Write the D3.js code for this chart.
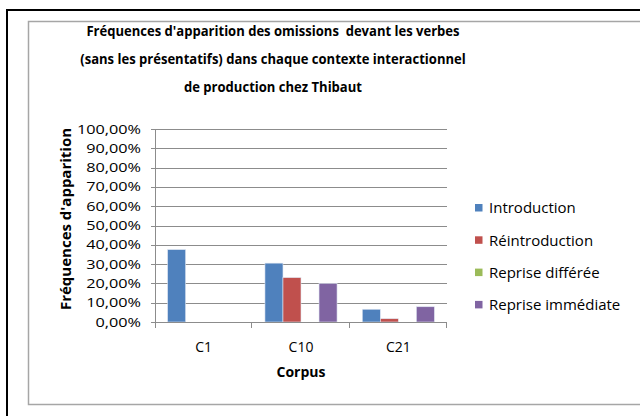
<!DOCTYPE html>
<html>
<head>
<meta charset="utf-8"/>
<script src="https://cdn.jsdelivr.net/npm/d3@7"></script>
<style>
  body { margin: 0; background: #fff; }
  svg text { font-family: "Open Sans", "Noto Sans", sans-serif; fill: #000; white-space: pre; }
</style>
</head>
<body>
<script>
// chart data
var categories = ["C1", "C10", "C21"];
var seriesNames = ["Introduction", "Réintroduction", "Reprise différée", "Reprise immédiate"];
var introduction = [0.375, 0.305, 0.066];
var reintroduction = [0, 0.23, 0.017];
var repriseDifferee = [0, 0, 0];
var repriseImmediate = [0, 0.20, 0.079];
var yTicks = [0, 0.1, 0.2, 0.3, 0.4, 0.5, 0.6, 0.7, 0.8, 0.9, 1];
var titleLines = ["Fréquences d'apparition des omissions  devant les verbes",
                  "(sans les présentatifs) dans chaque contexte interactionnel",
                  "de production chez Thibaut"];
var colors = ["#4F81BD", "#C0504D", "#9BBB59", "#8064A2"];

var seriesValues = [introduction, reintroduction, repriseDifferee, repriseImmediate];

var width = 640, height = 416;
var svg = d3.select("body").append("svg").attr("width", width).attr("height", height);

// frames
svg.append("rect").attr("x", 7).attr("y", 10).attr("width", 700).attr("height", 500)
   .attr("fill", "none").attr("stroke", "#000").attr("stroke-width", 2);
svg.append("rect").attr("x", 28.5).attr("y", 21.5).attr("width", 700).attr("height", 383)
   .attr("fill", "#fff").attr("stroke", "#a6a6a6").attr("stroke-width", 1.5);

var plotLeft = 155, plotRight = 447, plotTop = 129, plotBottom = 322;

var x0 = d3.scaleBand().domain(categories).range([plotLeft, plotRight]);
var x1 = d3.scaleBand().domain(seriesNames).range([0, x0.bandwidth()]).paddingOuter(0.7);
var y = d3.scaleLinear().domain([0, 1]).range([plotBottom, plotTop]);

var fmt = function (d) { return d3.format(".2%")(d).replace(".", ","); };

// gridlines
svg.append("g").selectAll("line").data(yTicks).enter().append("line")
   .attr("x1", plotLeft - 4).attr("x2", plotRight)
   .attr("y1", function (d) { return Math.round(y(d)) + 0.5; })
   .attr("y2", function (d) { return Math.round(y(d)) + 0.5; })
   .attr("stroke", "#8c8c8c").attr("stroke-width", 1);

// y axis labels (stretched horizontally like the original)
svg.append("g").selectAll("text").data(yTicks).enter().append("text")
   .attr("transform", function (d) { return "translate(141," + y(d) + ") scale(1.25,1)"; })
   .attr("dy", "0.35em").attr("text-anchor", "end")
   .style("font-size", "13px")
   .text(fmt);

// bars
var groups = svg.append("g").selectAll("g").data(categories).enter().append("g")
   .attr("transform", function (d) { return "translate(" + x0(d) + ",0)"; });
groups.selectAll("rect")
   .data(function (d, i) {
     return seriesNames.map(function (s, j) { return { s: s, v: seriesValues[j][i], c: colors[j] }; });
   })
   .enter().append("rect")
   .attr("x", function (d) { return x1(d.s); })
   .attr("width", x1.bandwidth())
   .attr("y", function (d) { return y(d.v); })
   .attr("height", function (d) { return plotBottom - y(d.v); })
   .attr("fill", function (d) { return d.c; })
   .attr("stroke", function (d) { return d.v > 0 ? "#dfe6f2" : "none"; })
   .attr("stroke-width", 0.6);

// axes lines
svg.append("line").attr("x1", plotLeft + 0.5).attr("x2", plotLeft + 0.5).attr("y1", plotTop).attr("y2", plotBottom + 6)
   .attr("stroke", "#8c8c8c");
svg.append("line").attr("x1", plotLeft).attr("x2", plotRight).attr("y1", plotBottom + 0.5).attr("y2", plotBottom + 0.5)
   .attr("stroke", "#8c8c8c");
var catEdges = categories.map(function (c) { return x0(c) + x0.bandwidth(); });
svg.append("g").selectAll("line").data(catEdges).enter().append("line")
   .attr("x1", function (d) { return Math.round(d) - 0.5; })
   .attr("x2", function (d) { return Math.round(d) - 0.5; })
   .attr("y1", plotBottom).attr("y2", plotBottom + 6).attr("stroke", "#8c8c8c");

// category labels
svg.append("g").selectAll("text").data(categories).enter().append("text")
   .attr("x", function (d) { return x0(d) + x0.bandwidth() / 2; })
   .attr("y", 352).attr("text-anchor", "middle")
   .style("font-size", "14px").text(function (d) { return d; });

// axis titles
svg.append("text").attr("x", 301).attr("y", 377).attr("text-anchor", "middle")
   .style("font-size", "14px").style("font-weight", "bold").text("Corpus");
svg.append("text").attr("transform", "translate(71,219) rotate(-90)")
   .attr("text-anchor", "middle").style("font-size", "15px").style("font-weight", "bold")
   .text("Fréquences d'apparition");

// title (condensed a little, the original font is narrower)
svg.append("g").selectAll("text").data(titleLines).enter().append("text")
   .attr("transform", function (d, i) { return "translate(273," + (36 + i * 28) + ") scale(0.87,1)"; })
   .attr("text-anchor", "middle").style("font-size", "15px").style("font-weight", "bold")
   .text(function (d) { return d; });

// legend
var legend = svg.append("g").selectAll("g").data(seriesNames).enter().append("g")
   .attr("transform", function (d, i) { return "translate(475," + (208 + i * 32.3) + ")"; });
legend.append("rect").attr("x", 0).attr("y", -4).attr("width", 7.5).attr("height", 7.5)
   .attr("fill", function (d, i) { return colors[i]; });
legend.append("text").attr("x", 14).attr("y", 0).attr("dy", "0.35em")
   .style("font-size", "15px").text(function (d) { return d; });
</script>
</body>
</html>
